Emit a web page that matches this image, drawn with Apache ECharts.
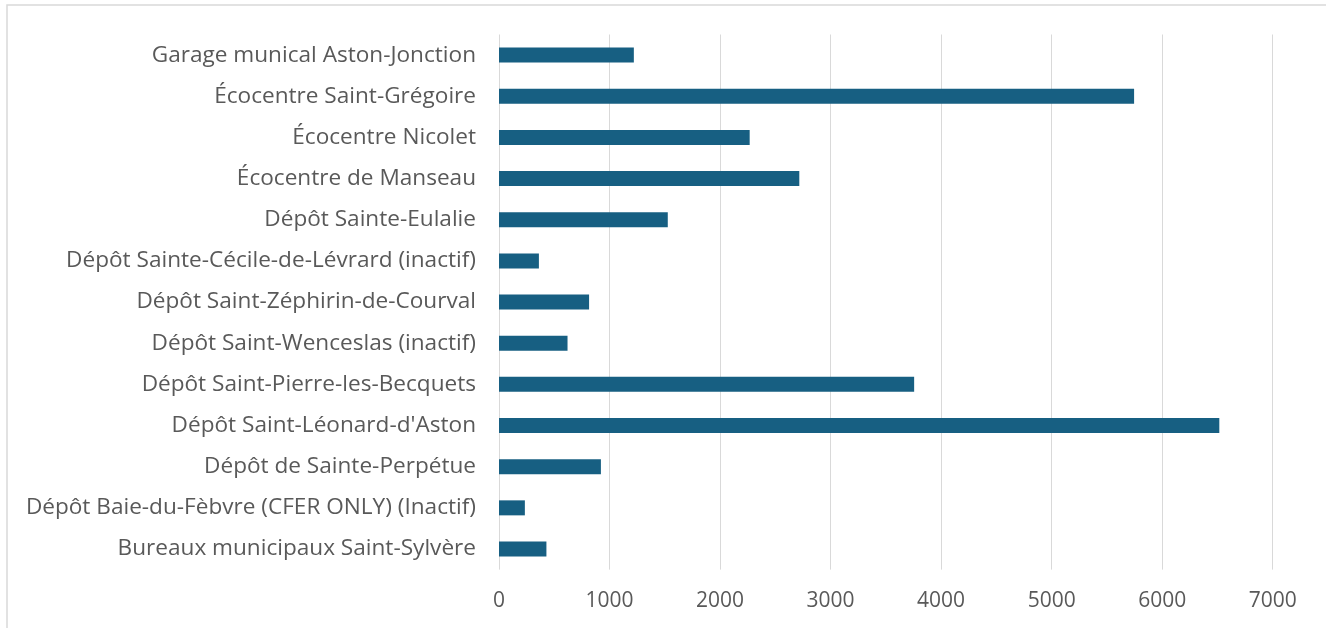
<!DOCTYPE html>
<html>
<head>
<meta charset="utf-8">
<style>
html,body{margin:0;padding:0;background:#fff;}
#chart{width:1326px;height:628px;}
</style>
<script src="https://cdn.jsdelivr.net/npm/echarts@6/dist/echarts.min.js"></script>
</head>
<body>
<div id="chart"></div>
<script>
const categories = [
  "Garage munical Aston-Jonction",
  "Écocentre Saint-Grégoire",
  "Écocentre Nicolet",
  "Écocentre de Manseau",
  "Dépôt Sainte-Eulalie",
  "Dépôt Sainte-Cécile-de-Lévrard (inactif)",
  "Dépôt Saint-Zéphirin-de-Courval",
  "Dépôt Saint-Wenceslas (inactif)",
  "Dépôt Saint-Pierre-les-Becquets",
  "Dépôt Saint-Léonard-d'Aston",
  "Dépôt de Sainte-Perpétue",
  "Dépôt Baie-du-Fèbvre (CFER ONLY) (Inactif)",
  "Bureaux municipaux Saint-Sylvère"
];
const values = [1220, 5746, 2268, 2717, 1527, 361, 815, 620, 3756, 6517, 922, 234, 429];
const xTicks = [0, 1000, 2000, 3000, 4000, 5000, 6000, 7000];

const chart = echarts.init(document.getElementById('chart'), null, {renderer: 'canvas'});
const font = "'Open Sans', sans-serif";
chart.setOption({
  animation: false,
  graphic: [{
    type: 'rect',
    shape: {x: 7, y: 5, width: 1330, height: 640},
    style: {fill: 'none', stroke: '#d9d9d9', lineWidth: 1.5},
    silent: true,
    z: -10
  }],
  grid: {left: 499, right: 53.3, top: 34.5, bottom: 58.4, containLabel: false},
  xAxis: {
    type: 'value',
    min: xTicks[0],
    max: xTicks[xTicks.length - 1],
    interval: 1000,
    axisLine: {show: false},
    axisTick: {show: false},
    splitLine: {show: true, lineStyle: {color: '#d9d9d9', width: 1}},
    axisLabel: {color: '#595959', fontSize: 21, fontFamily: font, margin: 21,
      formatter: function (v) { return String(v); }}
  },
  yAxis: {
    type: 'category',
    data: categories,
    inverse: true,
    axisLine: {show: false},
    axisTick: {show: false},
    splitLine: {show: false},
    axisLabel: {color: '#595959', fontSize: 22.6, fontFamily: font, margin: 23}
  },
  series: [{
    type: 'bar',
    data: values,
    barWidth: 15,
    itemStyle: {color: '#175f82'}
  }]
});
</script>
</body>
</html>
